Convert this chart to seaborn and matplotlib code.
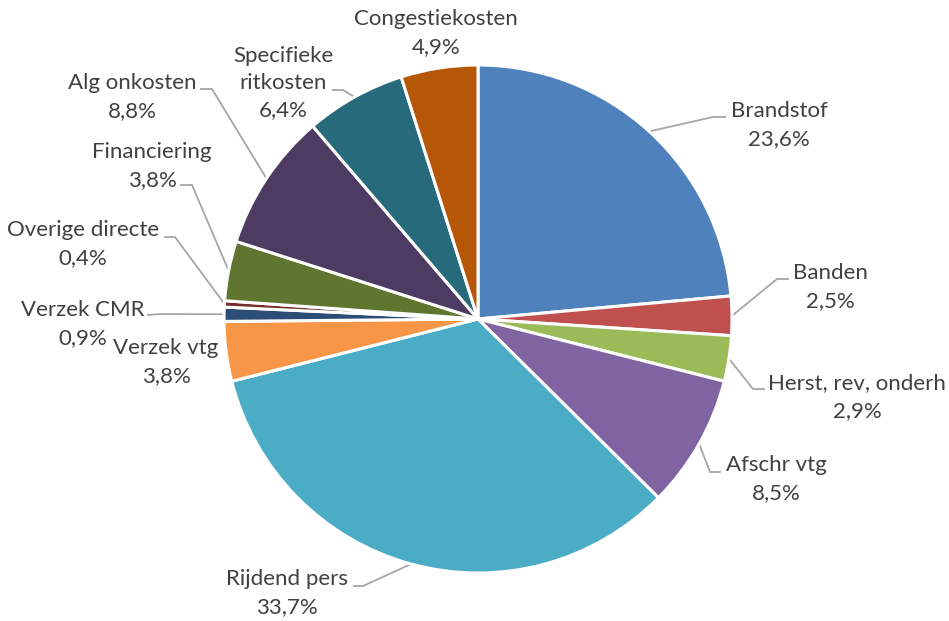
import numpy as np
import matplotlib
matplotlib.use("Agg")
import matplotlib.pyplot as plt
import seaborn as sns

# Cost breakdown (percent of total), clockwise from 12 o'clock
categories = [
    "Brandstof", "Banden", "Herst, rev, onderh", "Afschr vtg", "Rijdend pers",
    "Verzek vtg", "Verzek CMR", "Overige directe", "Financiering",
    "Alg onkosten", "Specifieke\nritkosten", "Congestiekosten",
]
shares = [23.6, 2.5, 2.9, 8.5, 33.7, 3.8, 0.9, 0.4, 3.8, 8.8, 6.4, 4.9]

slice_colors = [
    "#4F81BD", "#C0504D", "#9BBB59", "#8064A2", "#4BACC6", "#F79646",
    "#2C4D75", "#772C2A", "#5F7530", "#4D3B62", "#276A7C", "#B65708",
]

# Layout in pixel units (origin top-left): label block centre, leader elbow, leader end
W, H = 949, 621
CX, CY, R = 478, 319, 254
label_pos = [
    (779, 125), (830, 287), (857, 397), (776, 479), (287, 593), (166, 362),
    (83, 324), (83, 244), (152, 166), (132, 97), (283, 83), (436, 33),
]
leaders = [
    ((713, 117), (726, 117)),
    ((777, 279), (789, 279)),
    ((753, 389), (765, 389)),
    ((710, 472), (721, 472)),
    ((363, 586), (353, 586)),
    None,
    ((160, 314), (147, 315)),
    ((175, 237), (164, 237)),
    ((192, 185), (180, 185)),
    ((212, 89), (200, 89)),
    ((343, 90), (332, 90)),
    None,
]

sns.set_theme(style="white")
plt.rcParams["font.family"] = ["Lato", "DejaVu Sans"]

fig = plt.figure(figsize=(W / 100, H / 100), dpi=100)
ax = fig.add_axes([0, 0, 1, 1])

palette = sns.color_palette(slice_colors)
wedges, _ = ax.pie(
    shares, colors=palette, startangle=90, counterclock=False,
    center=(CX, H - CY), radius=R, frame=True,
    wedgeprops=dict(edgecolor="white", linewidth=2.2),
)
ax.set_xlim(0, W)
ax.set_ylim(0, H)
ax.set_aspect("equal")
ax.axis("off")

text_color = "#404040"
line_color = "#A6A6A6"
for w, name, val, pos, lead in zip(wedges, categories, shares, label_pos, leaders):
    label = f"{name}\n{val:.1f}".replace(".", ",") + "%"
    ax.text(pos[0], H - pos[1], label, ha="center", va="center",
            fontsize=16, color=text_color, linespacing=1.45)
    if lead is not None:
        mid = np.deg2rad((w.theta1 + w.theta2) / 2)
        sx, sy = CX + R * np.cos(mid), (H - CY) + R * np.sin(mid)
        (ex, ey), (tx, ty) = lead
        ax.plot([sx, ex, tx], [sy, H - ey, H - ty], color=line_color,
                lw=1.3, solid_capstyle="butt", zorder=0.5)

fig.savefig("out.png", dpi=100, facecolor="white")
